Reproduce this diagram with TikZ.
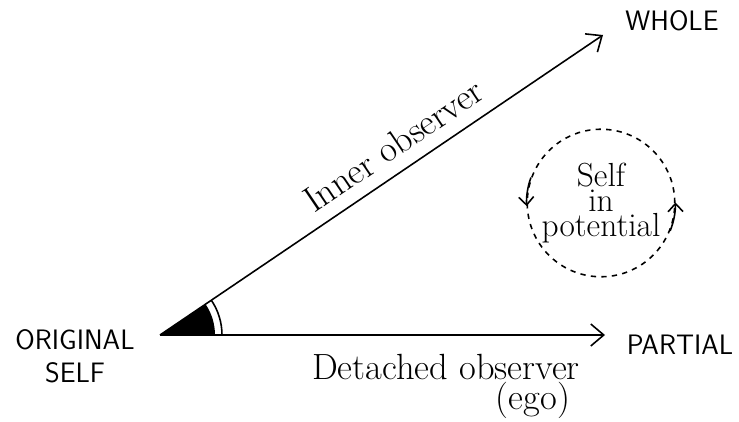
\documentclass[tikz,border=0pt]{standalone}
\usepackage{tikz}
\usetikzlibrary{arrows.meta,positioning}

\begin{document}
\begin{tikzpicture}[>={Straight Barb[length=2.6mm,width=4.4mm]}, line width=0.9pt,
	lbl/.style={font=\fontsize{16}{19}\selectfont\sffamily, align=center},
	hand/.style={font=\huge, inner sep=1pt}]
				\useasboundingbox (0,0) rectangle (14.78,8.42);
				\coordinate (vtx) at (3.2,1.72);
				\coordinate (tipW) at (12.06,7.72);
				\coordinate (tipP) at (12.1,1.72);
				% labels at the ends
				\node[lbl] (orig) at (1.5,1.3) {ORIGINAL\\SELF};
				\node[lbl] (whole) at (13.44,8.0) {WHOLE};
				\node[lbl] (partial) at (13.6,1.52) {PARTIAL};
				% the two observers
				\draw[->] (vtx) -- (tipW) node[hand, sloped, above=0.22cm, pos=0.56] (inner) {Inner observer};
				\draw[->] (vtx) -- (tipP);
				\node[hand] (detached) at (8.92,1.08) {Detached observer};
				\node[hand] (ego) at (10.66,0.42) {(ego)};
				% angle at the vertex
				\fill (vtx) -- ++(0:1.1) arc (0:33.9:1.1) -- cycle;
				\draw (vtx) ++(0:1.24) arc (0:33.9:1.24);
				% self in potential
				\node[draw, dashed, circle, minimum size=2.9cm, hand, font=\fontsize{19}{14}\selectfont, align=center] (selfpot) at (12.02,4.36) {Self\\in\\potential};
				\draw[-{Straight Barb[length=1.6mm,width=3mm]}] (selfpot.160) arc (160:183:1.45);
				\draw[-{Straight Barb[length=1.6mm,width=3mm]}] (selfpot.-22) arc (-22:1:1.45);
			\end{tikzpicture}
\end{document}
